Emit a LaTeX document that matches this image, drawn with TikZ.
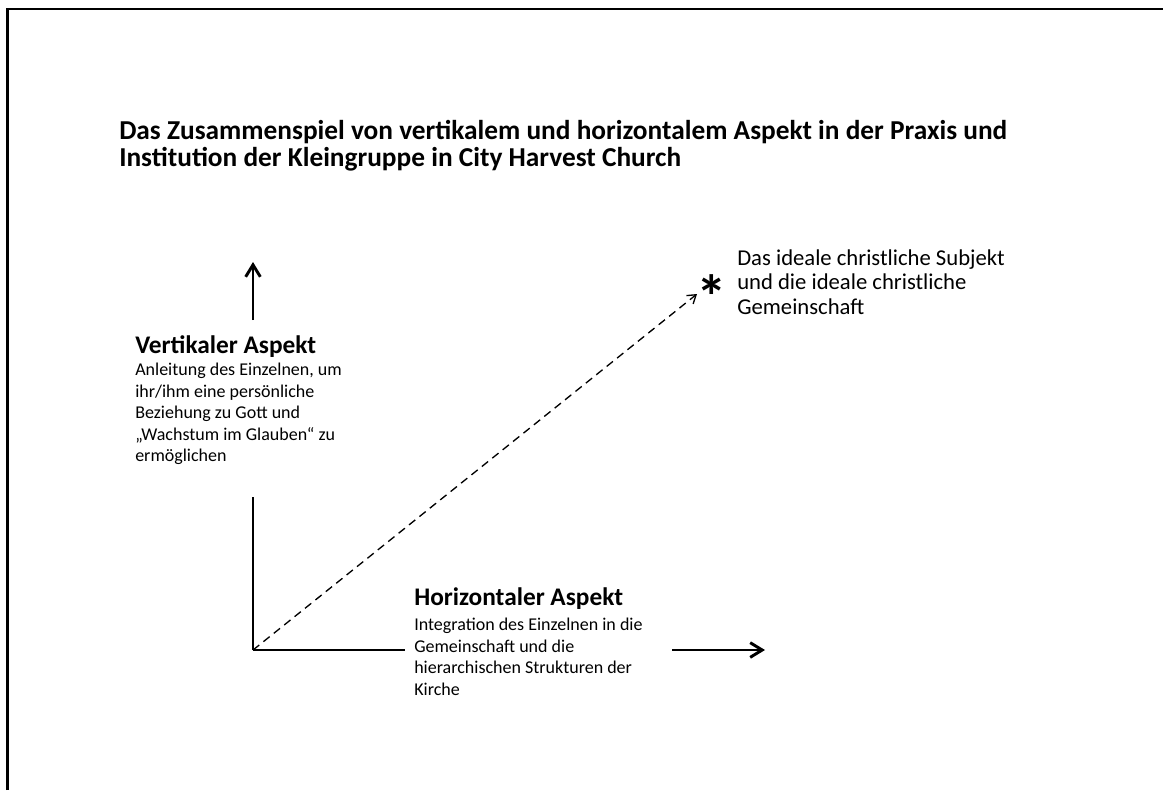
\documentclass[tikz,border=0pt]{standalone}
\usepackage{fontspec}
\setmainfont{Carlito}
\usetikzlibrary{arrows.meta}
\tikzset{
  axis/.style={line width=2.2pt, line cap=butt},
  axisarrow/.style={axis, -{Straight Barb[length=9pt, width=11pt, line width=2.2pt]}},
  dashline/.style={line width=1pt, dash pattern=on 6pt off 4pt, -{Straight Barb[length=6pt, width=8pt, line width=1pt]}},
  titletext/.style={anchor=north west, inner sep=0pt, align=left, font=\fontsize{20.5}{20.4}\selectfont\bfseries},
  headtext/.style={anchor=north west, inner sep=0pt, align=left, font=\fontsize{19}{21}\selectfont\bfseries},
  bodytext/.style={anchor=north west, inner sep=0pt, align=left, font=\fontsize{13.5}{16.1}\selectfont},
  goaltext/.style={anchor=north west, inner sep=0pt, align=left, font=\fontsize{17}{18.6}\selectfont},
}
\begin{document}
\begin{tikzpicture}[x=0.75pt, y=-0.75pt]
\useasboundingbox (0,0) rectangle (1163,790);
% frame (only left and top edges are inside the picture)
\coordinate (fbl) at (7.5,790);
\coordinate (ftl) at (7.5,9);
\coordinate (ftr) at (1163,9);
\draw[line width=1.6pt] (fbl) -- (ftl) -- (ftr);

\node[titletext] (title) at (119,120) {Das Zusammenspiel von vertikalem und horizontalem Aspekt in der Praxis und\\Institution der Kleingruppe in City Harvest Church};

\coordinate (O) at (253,650);
\coordinate (vlow) at (253,497);
\coordinate (vup0) at (253,320);
\coordinate (vup1) at (253,262);
\coordinate (hl) at (405,650);
\coordinate (hr0) at (672,650);
\coordinate (hr1) at (765,650);
\coordinate (goal) at (697,294);

\draw[axis] (O) -- (vlow);
\draw[axisarrow] (vup0) -- (vup1);
\draw[axis] (O) -- (hl);
\draw[axisarrow] (hr0) -- (hr1);
\draw[dashline] (O) -- (goal);

\node[inner sep=0pt, font=\fontsize{46}{46}\selectfont\bfseries] (star) at (712,297) {*};

\node[goaltext] (goaltxt) at (737,249) {Das ideale christliche Subjekt\\und die ideale christliche\\Gemeinschaft};

\node[headtext] (vhead) at (135,335) {Vertikaler Aspekt};
\node[bodytext] (vbody) at (135,363) {Anleitung des Einzelnen, um\\ihr/ihm eine persönliche\\Beziehung zu Gott und\\„Wachstum im Glauben“ zu\\ermöglichen};

\node[headtext] (hhead) at (414,587) {Horizontaler Aspekt};
\node[bodytext] (hbody) at (414,618) {Integration des Einzelnen in die\\Gemeinschaft und die\\hierarchischen Strukturen der\\Kirche};
\end{tikzpicture}
\end{document}
